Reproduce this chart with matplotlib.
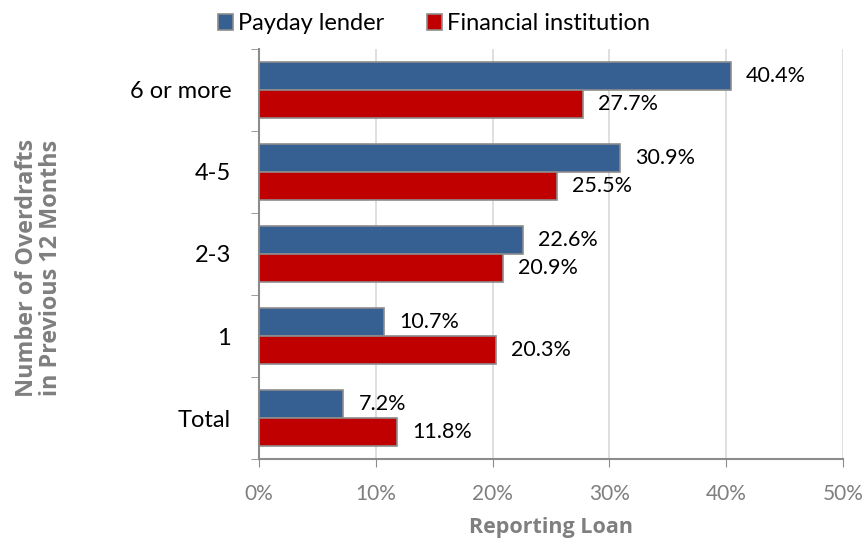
import numpy as np
import matplotlib.pyplot as plt
from matplotlib.ticker import FixedLocator, FuncFormatter

# --- data ---
categories = ["Total", "1", "2-3", "4-5", "6 or more"]
payday = [7.2, 10.7, 22.6, 30.9, 40.4]
financial = [11.8, 20.3, 20.9, 25.5, 27.7]
series_names = ["Payday lender", "Financial institution"]

plt.rcParams['font.family'] = ['Lato', 'DejaVu Sans']

blue = "#376092"
red = "#C00000"
edge = "#8C8C8C"
axis_grey = "#8C8C8C"
text_grey = "#7F7F7F"

fig = plt.figure(figsize=(8.68, 5.46), dpi=100)
ax = fig.add_axes([0.2984, 0.1593, 0.6728, 0.7510])

y = np.arange(len(categories))
h = 0.34
b1 = ax.barh(y + h / 2, payday, height=h, color=blue, edgecolor=edge, linewidth=1.2,
             label=series_names[0], zorder=3)
b2 = ax.barh(y - h / 2, financial, height=h, color=red, edgecolor=edge, linewidth=1.2,
             label=series_names[1], zorder=3)

# data labels
for bars, vals in ((b1, payday), (b2, financial)):
    for rect, v in zip(bars, vals):
        ax.annotate(f"{v:.1f}%", (v, rect.get_y() + rect.get_height() / 2),
                    xytext=(11, 0), textcoords="offset points",
                    va="center", ha="left", fontsize=15.5, color="black")

ax.set_xlim(0, 50)
ax.set_ylim(-0.5, len(categories) - 0.5)
ax.set_xticks(np.arange(0, 51, 10))
ax.xaxis.set_major_formatter(FuncFormatter(lambda v, p: f"{v:.0f}%"))
ax.tick_params(axis='x', colors=axis_grey, labelcolor=text_grey, labelsize=15,
               length=6, direction='out', pad=12)

ax.set_yticks(y)
ax.set_yticklabels(categories, fontsize=17)
ax.tick_params(axis='y', which='major', length=0, pad=20, labelcolor='black')
ax.yaxis.set_minor_locator(FixedLocator(np.arange(-0.5, len(categories), 1.0)))
ax.tick_params(axis='y', which='minor', length=6, color=axis_grey, direction='out')

ax.grid(axis='x', color="#D9D9D9", linewidth=1.2, zorder=0)
for s in ('top', 'right'):
    ax.spines[s].set_visible(False)
for s in ('left', 'bottom'):
    ax.spines[s].set_color(axis_grey)
    ax.spines[s].set_linewidth(1.5)

# axis titles in a font with a real bold face
title_font = ['Open Sans', 'DejaVu Sans']
ax.set_xlabel("Reporting Loan", fontsize=15.5, fontweight='bold', color=text_grey,
              labelpad=9, family=title_font)
fig.text(0.045, 0.509, "Number of Overdrafts\nin Previous 12 Months", rotation=90,
         ha='center', va='center', fontsize=16.8, fontweight='bold', color=text_grey,
         linespacing=1.0, family=title_font)

leg = fig.legend(handles=[b1, b2], loc='upper center', bbox_to_anchor=(0.5, 1.015),
                 ncol=2, frameon=False, fontsize=17, handlelength=0.65, handleheight=0.65,
                 handletextpad=0.2, columnspacing=1.8)

fig.savefig("out.png", dpi=100)
